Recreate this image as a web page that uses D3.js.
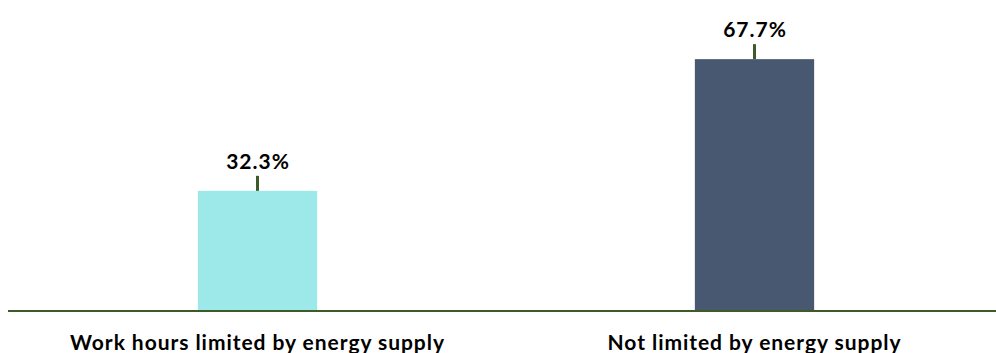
<!DOCTYPE html>
<html>
<head>
<meta charset="utf-8">
<script src="https://cdn.jsdelivr.net/npm/d3@7"></script>
<style>
  html, body { margin: 0; padding: 0; background: #ffffff; }
  svg { display: block; }
  text { font-family: Lato, "Open Sans", sans-serif; font-weight: bold; fill: #000; }
</style>
</head>
<body>
<script>
const categories = ["Work hours limited by energy supply", "Not limited by energy supply"];
const values = [32.3, 67.7];
const valueLabels = ["32.3%", "67.7%"];
const colors = ["#9de9ea", "#475870"];

const W = 996, H = 353;
const svg = d3.select("body").append("svg").attr("width", W).attr("height", H);

const x = d3.scaleBand().domain(categories).range([9, 1003]).padding(0);
const barW = x.bandwidth() * 0.24;
const y = d3.scaleLinear().domain([0, 70]).range([311, 311 - 70 * 3.72]);

// bars
svg.selectAll("rect.bar").data(categories).enter().append("rect")
  .attr("class", "bar")
  .attr("x", d => x(d) + x.bandwidth() / 2 - barW / 2)
  .attr("width", barW)
  .attr("y", (d, i) => y(values[i]))
  .attr("height", (d, i) => y(0) - y(values[i]))
  .attr("fill", (d, i) => colors[i]);

// leader ticks
svg.selectAll("line.lead").data(categories).enter().append("line")
  .attr("x1", d => x(d) + x.bandwidth() / 2)
  .attr("x2", d => x(d) + x.bandwidth() / 2)
  .attr("y1", (d, i) => y(values[i]))
  .attr("y2", (d, i) => y(values[i]) - 15)
  .attr("stroke", "#3d5a28")
  .attr("stroke-width", 3);

// value labels
svg.selectAll("text.val").data(categories).enter().append("text")
  .attr("x", d => x(d) + x.bandwidth() / 2 + 0.5)
  .attr("y", (d, i) => y(values[i]) - 22)
  .attr("text-anchor", "middle")
  .attr("font-size", 21)
  .attr("letter-spacing", 1)
  .text((d, i) => valueLabels[i]);

// baseline axis
const axis = d3.axisBottom(x).tickSize(0);
const g = svg.append("g").attr("transform", `translate(0,${y(0)})`).call(axis);
g.select(".domain").remove();
g.selectAll("text")
  .attr("y", 39).attr("dy", null)
  .attr("font-size", 21).attr("letter-spacing", 0.95)
  .attr("font-family", "Lato, sans-serif").attr("font-weight", "bold").attr("fill", "#000");
svg.append("line")
  .attr("x1", 8).attr("x2", 996)
  .attr("y1", y(0)).attr("y2", y(0))
  .attr("stroke", "#3d5a28").attr("stroke-width", 2);
</script>
</body>
</html>
